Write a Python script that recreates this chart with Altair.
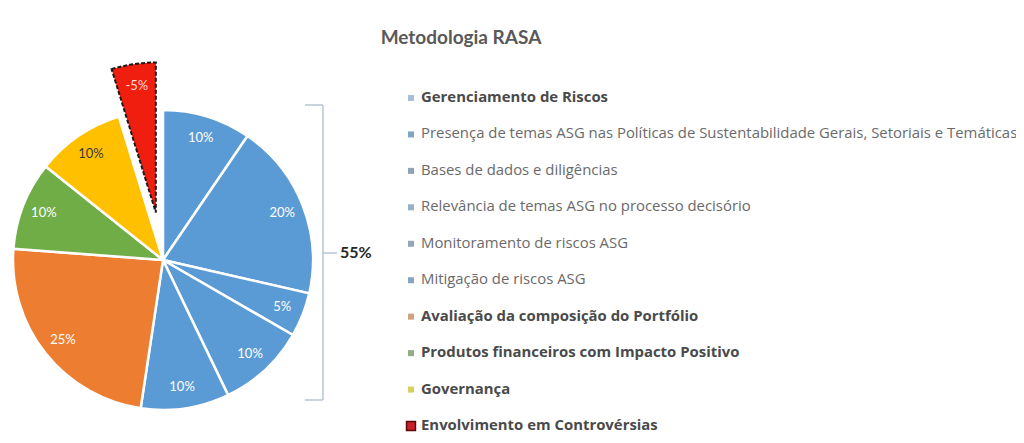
import math
import altair as alt
import pandas as pd

# ---------------- data ----------------
title_text = "Metodologia RASA"
group_label = "Gerenciamento de Riscos"
categories = [
    "Presença de temas ASG nas Políticas de Sustentabilidade Gerais, Setoriais e Temáticas",
    "Bases de dados e diligências",
    "Relevância de temas ASG no processo decisório",
    "Monitoramento de riscos ASG",
    "Mitigação de riscos ASG",
    "Avaliação da composição do Portfólio",
    "Produtos financeiros com Impacto Positivo",
    "Governança",
    "Envolvimento em Controvérsias",
]
values = [10, 20, 5, 10, 10, 25, 10, 10, -5]
group_size = 5  # first five slices belong to "Gerenciamento de Riscos"

slice_colors = ["#5B9BD5"] * 5 + ["#ED7D31", "#70AD47", "#FFC000", "#F01E0E"]
legend_labels = [group_label] + categories
legend_colors = ["#A9BFD4", "#7FA5C9", "#8CA3BA", "#98AFC4", "#8FA6BC", "#8AA4BC",
                 "#D2A27E", "#93AE84", "#D9CF5E", "#C8202A"]
legend_bold = [True, False, False, False, False, False, True, True, True, True]

# ---------------- derived table ----------------
df = pd.DataFrame({"category": categories, "value": values})
df["size"] = df["value"].abs()
df["end"] = df["size"].cumsum()
df["start"] = df["end"] - df["size"]
df["mid"] = (df["start"] + df["end"]) / 2
df["label"] = df["value"].map(lambda v: f"{v}%")
total = float(df["size"].sum())

leg = pd.DataFrame({"label": legend_labels, "color": legend_colors, "bold": legend_bold})
group_total = pd.DataFrame({"t": [f"{sum(values[:group_size])}%"]})
title_df = pd.DataFrame({"t": [title_text]})
one = pd.DataFrame({"k": [0]})

# ---------------- layout (style) ----------------
W, H = 1008, 427
CX, CY, R = 155, 252, 150
LABEL_R = 128
EXPLODE = 48
FONT = "Lato"
LEG_FONT = "Open Sans"

mid_red = df.loc[df["value"] < 0, "mid"].iloc[0] / total * 2 * math.pi
EX_X = CX + EXPLODE * math.sin(mid_red)
EX_Y = CY - EXPLODE * math.cos(mid_red)

theta_scale = alt.Scale(domain=[0, total], range=[0, 2 * math.pi])
color = alt.Color("category:N", scale=alt.Scale(domain=categories, range=slice_colors), legend=None)

base = alt.Chart(df)

arcs = base.transform_filter("datum.value > 0").mark_arc(
    outerRadius=R, stroke="white", strokeWidth=2.5
).encode(
    theta=alt.Theta("start:Q", scale=theta_scale),
    theta2="end:Q",
    color=color,
    x=alt.value(CX), y=alt.value(CY),
)

exploded = base.transform_filter("datum.value < 0").mark_arc(
    outerRadius=R, stroke="#1a1a1a", strokeWidth=2, strokeDash=[4, 2]
).encode(
    theta=alt.Theta("start:Q", scale=theta_scale),
    theta2="end:Q",
    color=color,
    x=alt.value(EX_X), y=alt.value(EX_Y),
)

slice_labels = base.transform_filter("datum.value > 0").mark_text(
    radius=LABEL_R, font=FONT, fontSize=13, align="center", baseline="middle"
).encode(
    theta=alt.Theta("mid:Q", scale=theta_scale),
    text="label:N",
    color=alt.condition("datum.category === 'Governança'", alt.value("#3a3a3a"), alt.value("white")),
    x=alt.value(CX), y=alt.value(CY),
)

red_label = base.transform_filter("datum.value < 0").mark_text(
    radius=LABEL_R, font=FONT, fontSize=13, align="center", baseline="middle", color="#FFD9D2"
).encode(
    theta=alt.Theta("mid:Q", scale=theta_scale),
    text="label:N",
    x=alt.value(EX_X), y=alt.value(EX_Y),
)

# bracket
BR = "#B5C6D8"
def rule(x1, x2, y1, y2):
    return alt.Chart(one).mark_rule(color=BR, strokeWidth=1.5).encode(
        x=alt.value(x1), x2=alt.value(x2), y=alt.value(y1), y2=alt.value(y2)
    )

bracket = [
    rule(297, 315, 97, 97),
    rule(315, 315, 97, 392),
    rule(297, 315, 392, 392),
    rule(315, 329, 245, 245),
]

total_text = alt.Chart(group_total).mark_text(
    font=FONT, fontSize=16, fontWeight="bold", color="#262626", align="left", baseline="middle"
).encode(text="t:N", x=alt.value(332), y=alt.value(245))

title = alt.Chart(title_df).mark_text(
    font=FONT, fontSize=19, fontWeight="bold", color="#595959", align="center", baseline="middle"
).encode(text="t:N", x=alt.value(453), y=alt.value(30))

# legend
ly = alt.Y("label:N", sort=legend_labels, scale=alt.Scale(type="point", range=[90, 418], padding=0), axis=None)
lbase = alt.Chart(leg)
is_red = "datum.label === 'Envolvimento em Controvérsias'"
leg_sym = lbase.mark_square(opacity=1, stroke="#5a0808").encode(
    y=ly,
    x=alt.value(403),
    color=alt.Color("color:N", scale=None),
    size=alt.condition(is_red, alt.value(80), alt.value(36)),
    strokeWidth=alt.condition(is_red, alt.value(1.5), alt.value(0)),
)
leg_txt_reg = lbase.transform_filter("!datum.bold").mark_text(
    font=LEG_FONT, fontSize=14.9, color="#6a6a6a", align="left", baseline="middle"
).encode(y=ly, x=alt.value(413), text="label:N")
leg_txt_bold = lbase.transform_filter("datum.bold").mark_text(
    font=LEG_FONT, fontSize=14.9, fontWeight="bold", color="#4a4a4a", align="left", baseline="middle"
).encode(y=ly, x=alt.value(413), text="label:N")

chart = alt.layer(
    arcs, exploded, slice_labels, red_label, *bracket, total_text, title,
    leg_sym, leg_txt_reg, leg_txt_bold
).resolve_scale(color="independent").properties(
    width=W, height=H, autosize=alt.AutoSizeParams(type="none"), padding=0
).configure(background="white").configure_view(stroke="transparent", strokeWidth=0)

chart.save("out.html", embed_options={"renderer": "svg", "actions": False})
